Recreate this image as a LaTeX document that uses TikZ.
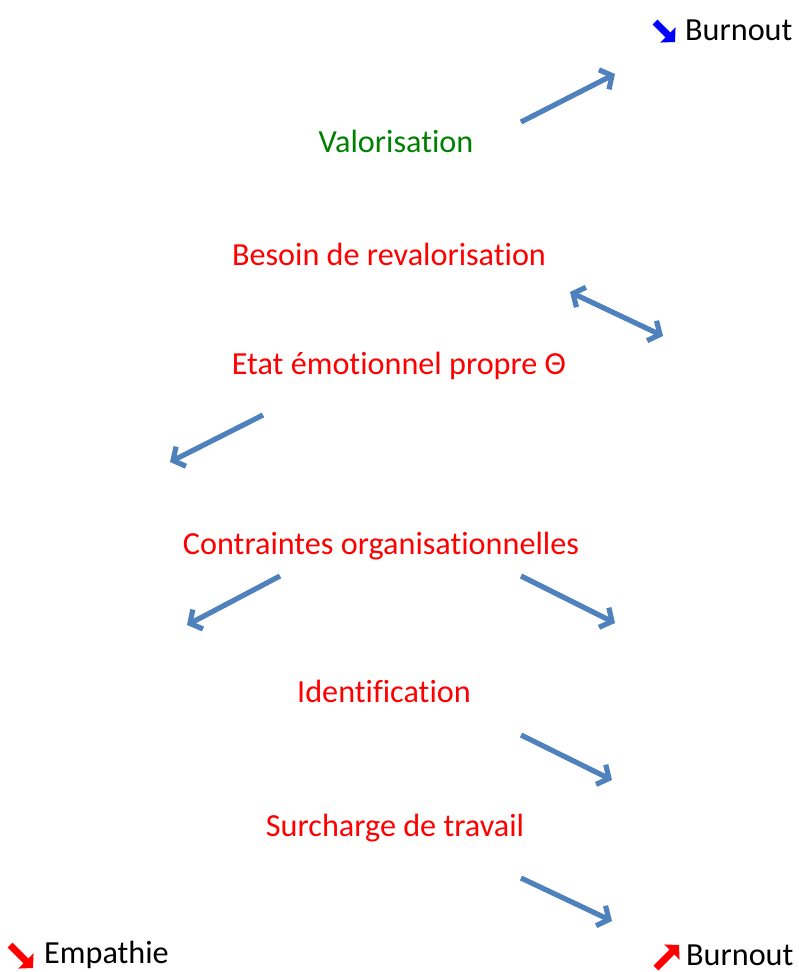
\documentclass[tikz,border=0pt]{standalone}
\usepackage{fontspec}
\setmainfont[Ligatures={NoCommon}]{Carlito}
\usetikzlibrary{arrows.meta}
\definecolor{arrowblue}{RGB}{79,129,189}
\definecolor{lblgreen}{RGB}{0,128,0}
\definecolor{lblred}{RGB}{255,0,0}
\definecolor{iconblue}{RGB}{0,0,255}
\tikzset{
  lbl/.style={font=\fontsize{32.2}{36}\selectfont, inner sep=0pt, anchor=center},
  redlbl/.style={lbl, text=lblred},
  conn/.style={draw=arrowblue, line width=5.2pt, line cap=butt,
    -{Straight Barb[length=9pt, width=22pt, line width=5.2pt]}},
  dconn/.style={draw=arrowblue, line width=5.2pt,
    {Straight Barb[length=9pt, width=22pt, line width=5.2pt]}-{Straight Barb[length=9pt, width=22pt, line width=5.2pt]}},
  icon/.style={line width=7pt, -{Triangle[length=10pt, width=21pt]}}
}
\begin{document}
\begin{tikzpicture}[x=1pt, y=-1pt]
\useasboundingbox (0,0) rectangle (798,972);
% labels
\node[lbl, anchor=west] (burnTop) at (685,30) {Burnout};
\node[lbl, text=lblgreen] (valo) at (396,141) {Valorisation};
\node[redlbl] (besoin) at (389,254) {Besoin de revalorisation};
\node[redlbl] (etat) at (399,366) {Etat émotionnel propre Θ};
\node[redlbl] (contr) at (381,546) {Contraintes organisationnelles};
\node[redlbl] (ident) at (384,691) {Identification};
\node[redlbl] (surch) at (395,828) {Surcharge de travail};
\node[lbl, anchor=west] (emp) at (44,955) {Empathie};
\node[lbl, anchor=west] (burnBot) at (686,955) {Burnout};
% icons
\coordinate (i1a) at (655,22); \coordinate (i1b) at (675,42);
\draw[icon, draw=iconblue, fill=iconblue] (i1a) -- (i1b);
\coordinate (i2a) at (10,945); \coordinate (i2b) at (33,968);
\draw[icon, draw=lblred, fill=lblred] (i2a) -- (i2b);
\coordinate (i3a) at (656,968); \coordinate (i3b) at (679,945);
\draw[icon, draw=lblred, fill=lblred] (i3a) -- (i3b);
% connectors
\coordinate (a1s) at (521,122); \coordinate (a1e) at (615,74);
\coordinate (a2s) at (570,292); \coordinate (a2e) at (663,336);
\coordinate (a3s) at (263,415); \coordinate (a3e) at (170,462);
\coordinate (a4s) at (280,576); \coordinate (a4e) at (187,625);
\coordinate (a5s) at (521,576); \coordinate (a5e) at (615,623);
\coordinate (a6s) at (521,735); \coordinate (a6e) at (612,780);
\coordinate (a7s) at (521,878); \coordinate (a7e) at (612,921);
\draw[conn] (a1s) -- (a1e);
\draw[dconn] (a2s) -- (a2e);
\draw[conn] (a3s) -- (a3e);
\draw[conn] (a4s) -- (a4e);
\draw[conn] (a5s) -- (a5e);
\draw[conn] (a6s) -- (a6e);
\draw[conn] (a7s) -- (a7e);
\end{tikzpicture}
\end{document}
